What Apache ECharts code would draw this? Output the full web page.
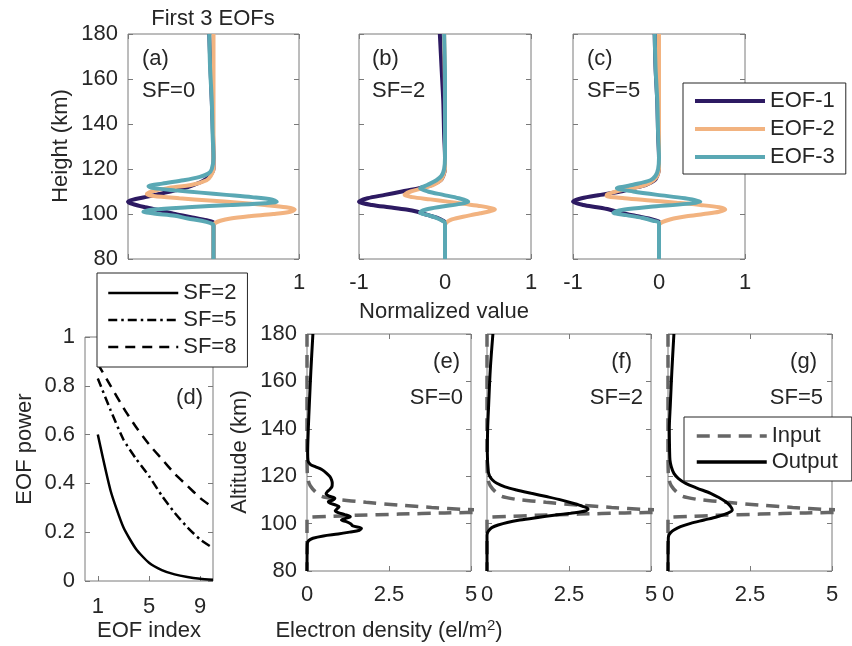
<!DOCTYPE html>
<html>
<head>
<meta charset="utf-8">
<script src="https://cdn.jsdelivr.net/npm/echarts@6/dist/echarts.min.js"></script>
<style>
  html, body { margin: 0; padding: 0; background: #fff; }
  #chart { width: 852px; height: 646px; }
</style>
</head>
<body>
<div id="chart"></div>
<script>
// ---- data ----
// (a) SF=0
const hgtA1 = [180, 160, 140, 125, 120, 116, 114, 112, 110.5, 109, 107.5, 106.3, 105.5, 104.5, 103, 101.5, 100, 98.5, 97.2, 96.3, 95, 80]
const eofA1 = [-0.05, -0.03, -0.01, 0, 0, -0.07, -0.16, -0.3, -0.45, -0.62, -0.8, -0.95, -1.0, -0.95, -0.8, -0.62, -0.45, -0.25, -0.08, 0, 0, 0]
const hgtA2 = [180, 160, 140, 125, 120, 117, 115, 113, 111.4, 110, 108.8, 108, 107, 106, 105, 104, 103, 102, 101, 100, 99, 98, 97, 96, 95, 80]
const eofA2 = [0, 0, 0, 0, 0, -0.03, -0.08, -0.25, -0.55, -0.72, -0.78, -0.7, -0.4, -0.05, 0.3, 0.6, 0.85, 0.95, 0.9, 0.7, 0.42, 0.2, 0.08, 0.02, 0, 0]
const hgtA3 = [180, 165, 150, 135, 125, 120, 118, 116.5, 115, 113.5, 112.3, 111.5, 110.5, 109.5, 108.5, 107.5, 106.5, 105.5, 104.8, 104, 103, 102, 101, 100.2, 99.2, 98, 97, 96, 95, 80]
const eofA3 = [-0.05, -0.04, -0.02, -0.01, 0, -0.02, -0.06, -0.16, -0.35, -0.6, -0.76, -0.7, -0.45, -0.15, 0.15, 0.45, 0.68, 0.74, 0.6, 0.2, -0.3, -0.7, -0.82, -0.7, -0.45, -0.3, -0.14, -0.04, 0, 0]
// (b) SF=2
const hgtB1 = [180, 165, 150, 135, 125, 120, 117, 115, 113, 111.5, 110, 108.5, 107, 105.5, 104, 103, 102, 101, 100, 99, 98, 97, 96.5, 80]
const eofB1 = [-0.06, -0.04, -0.02, -0.01, 0, 0, -0.02, -0.05, -0.15, -0.3, -0.5, -0.7, -0.9, -1.0, -0.85, -0.65, -0.45, -0.32, -0.24, -0.15, -0.07, -0.02, 0, 0]
const hgtB2 = [180, 150, 125, 120, 117, 115, 113, 111.5, 110, 108.4, 107.5, 106.5, 105.5, 104.5, 103.5, 102.5, 102, 101.2, 100.3, 99.5, 98.8, 98, 97.3, 96.3, 95, 80]
const eofB2 = [-0.01, 0, 0, 0, -0.02, -0.05, -0.13, -0.25, -0.4, -0.47, -0.38, -0.17, 0.03, 0.22, 0.42, 0.55, 0.58, 0.52, 0.41, 0.3, 0.21, 0.12, 0.06, 0.02, 0, 0]
const hgtB3 = [180, 160, 140, 125, 120, 117, 115, 113, 111.4, 110, 108.5, 107, 105.5, 104.5, 103.2, 102, 100.6, 99.5, 98.3, 97, 96, 80]
const eofB3 = [-0.01, 0, 0, 0, -0.01, -0.04, -0.1, -0.2, -0.29, -0.2, -0.02, 0.16, 0.27, 0.18, -0.05, -0.22, -0.29, -0.2, -0.1, -0.03, 0, 0]
// (c) SF=5
const hgtC1 = [180, 165, 150, 135, 125, 120, 117, 115, 113, 111.5, 110, 108.5, 107, 105.5, 104, 103, 102, 101, 100, 99, 98, 97, 96.5, 80]
const eofC1 = [-0.05, -0.04, -0.02, -0.01, 0, 0, -0.02, -0.05, -0.15, -0.3, -0.45, -0.68, -0.9, -1.0, -0.88, -0.72, -0.58, -0.49, -0.38, -0.25, -0.12, -0.03, 0, 0]
const hgtC2 = [180, 150, 125, 120, 117, 115, 113, 111.5, 110, 108.7, 108, 107, 106, 105, 104, 103, 102, 101, 100, 99, 98, 97, 96, 95, 80]
const eofC2 = [0, 0, 0, 0, -0.02, -0.06, -0.15, -0.3, -0.5, -0.6, -0.61, -0.4, -0.1, 0.2, 0.48, 0.7, 0.77, 0.7, 0.52, 0.32, 0.17, 0.08, 0.02, 0, 0]
const hgtC3 = [180, 165, 150, 135, 125, 120, 117, 115, 113, 111.4, 110, 108.5, 107, 105.5, 104.5, 103.2, 102, 100.6, 99.5, 98.3, 97, 96, 80]
const eofC3 = [-0.05, -0.04, -0.02, -0.01, 0, -0.01, -0.04, -0.1, -0.3, -0.49, -0.3, -0.02, 0.3, 0.48, 0.32, -0.1, -0.4, -0.53, -0.38, -0.2, -0.07, 0, 0]

// (d) EOF power
const eofIndex = [1, 2, 3, 4, 5, 6, 7, 8, 9, 10]
const powerSF2 = [0.60, 0.37, 0.22, 0.13, 0.075, 0.045, 0.027, 0.016, 0.009, 0.005]
const powerSF5 = [0.83, 0.70, 0.58, 0.50, 0.43, 0.35, 0.28, 0.22, 0.17, 0.135]
const powerSF8 = [0.89, 0.80, 0.71, 0.63, 0.56, 0.50, 0.44, 0.39, 0.34, 0.30]

// (e)-(g) electron density, input profile is the same in all three
const hgtIn = [180, 130, 121, 118, 116, 113.5, 111.5, 110.2, 109, 107.8, 106.8, 106, 105.5, 105, 104.5, 104, 103.5, 103, 102.7, 102.4, 80]
const denIn = [0, 0, 0.01, 0.04, 0.1, 0.25, 0.45, 0.9, 1.8, 2.8, 3.8, 4.8, 5.6, 5.6, 4.2, 2.8, 1.5, 0.6, 0.1, 0, 0]
const hgtOutE = [180, 165, 150, 140, 130, 126.5, 125, 124, 122.8, 121.2, 119.8, 118.4, 117, 115.6, 114.5, 113.5, 112.5, 111.6, 110.7, 110, 109.2, 108.6, 107.8, 107.1, 106.3, 105.4, 104.6, 103.8, 102.9, 102.2, 101.5, 100.8, 99.8, 99, 98, 97.2, 96.4, 95.6, 94.8, 93.8, 92.8, 91.5, 80]
const denOutE = [0.18, 0.12, 0.07, 0.04, 0.02, 0.03, 0.1, 0.25, 0.45, 0.6, 0.7, 0.75, 0.77, 0.76, 0.7, 0.62, 0.58, 0.68, 0.85, 0.8, 0.65, 0.7, 0.88, 0.98, 0.92, 0.86, 0.95, 1.15, 1.32, 1.18, 1.05, 1.2, 1.34, 1.4, 1.66, 1.6, 1.3, 0.95, 0.5, 0.18, 0.05, 0.01, 0]
const hgtOutF = [180, 165, 150, 140, 130, 122, 120, 118.5, 117, 115.5, 114.2, 112.8, 111.4, 110, 108.6, 107.3, 106.2, 105.3, 104.4, 103.6, 102.5, 101.5, 100.5, 99.4, 98.4, 97.3, 96.3, 95, 80]
const denOutF = [0.18, 0.1, 0.05, 0.02, 0.01, 0.04, 0.08, 0.16, 0.3, 0.55, 0.9, 1.35, 1.81, 2.25, 2.62, 2.92, 3.08, 3.0, 2.55, 2.1, 1.5, 1.0, 0.62, 0.34, 0.16, 0.07, 0.02, 0, 0]
const hgtOutG = [180, 165, 150, 140, 130, 126.8, 124, 121.2, 119, 117, 115, 112.8, 111, 109.2, 107.4, 105.7, 104.3, 102.9, 101.5, 100.1, 98.7, 97.3, 96.2, 95.2, 94, 80]
const denOutG = [0.18, 0.12, 0.07, 0.04, 0.05, 0.06, 0.1, 0.18, 0.32, 0.54, 0.88, 1.3, 1.55, 1.76, 1.9, 1.96, 1.8, 1.5, 1.1, 0.69, 0.38, 0.18, 0.08, 0.03, 0.01, 0]

// ---- layout / style ----
const FONT = '"Liberation Sans", Arial, Helvetica, sans-serif'
const FS = 22
const TXT = '#262626'
const BOX = '#7a7a7a'
const C1 = '#2d1a62', C2 = '#f2b380', C3 = '#5aa8b4'

const grids = [
  { left: 128, top: 34, width: 171, height: 225 },  // a
  { left: 359, top: 34, width: 172, height: 225 },  // b
  { left: 573, top: 34, width: 172, height: 225 },  // c
  { left: 85, top: 337, width: 128, height: 244 },  // d
  { left: 307, top: 334, width: 164, height: 237 }, // e
  { left: 487, top: 334, width: 164, height: 237 }, // f
  { left: 668, top: 334, width: 164, height: 237 }  // g
].map(g => Object.assign({ show: true, borderColor: BOX, borderWidth: 1, backgroundColor: 'transparent' }, g))

const tick = { show: true, inside: true, length: 5, lineStyle: { color: BOX, width: 1 } }

function xAxes (gi, min, max, interval, showLabel, margin, custom) {
  let base = {
    type: 'value', gridIndex: gi, min: min, max: max, interval: interval,
    axisLine: { show: false, onZero: false }, splitLine: { show: false },
    axisTick: Object.assign({}, tick, custom ? { customValues: custom } : {})
  }
  let bottom = Object.assign({}, base, {
    position: 'bottom',
    axisLabel: Object.assign({ show: showLabel, color: TXT, fontSize: FS, fontFamily: FONT, margin: margin }, custom ? { customValues: custom } : {})
  })
  let top = Object.assign({}, base, { position: 'top', axisLabel: { show: false } })
  return [bottom, top]
}

function yAxes (gi, min, max, interval, showLabel, fmt) {
  let base = {
    type: 'value', gridIndex: gi, min: min, max: max, interval: interval,
    axisLine: { show: false, onZero: false }, splitLine: { show: false }, axisTick: tick
  }
  let left = Object.assign({}, base, {
    position: 'left',
    axisLabel: { show: showLabel, color: TXT, fontSize: FS, fontFamily: FONT, margin: 10, formatter: fmt }
  })
  let right = Object.assign({}, base, { position: 'right', axisLabel: { show: false } })
  return [left, right]
}

let xAxis = [], yAxis = []
for (let gi = 0; gi < 3; gi++) {
  xAxis.push(...xAxes(gi, -1, 1, 1, true, 13))
  yAxis.push(...yAxes(gi, 80, 180, 20, gi === 0))
}
xAxis.push(...xAxes(3, 0, 10, 1, true, 15, [1, 5, 9]))
yAxis.push(...yAxes(3, 0, 1, 0.2, true, v => String(+v.toFixed(1))))
for (let gi = 4; gi < 7; gi++) {
  xAxis.push(...xAxes(gi, 0, 5, 2.5, true, 13))
  yAxis.push(...yAxes(gi, 80, 180, 20, gi === 4))
}

function line (name, gi, xs, ys, color, width, type, smooth) {
  return {
    name: name, type: 'line', xAxisIndex: gi * 2, yAxisIndex: gi * 2,
    data: xs.map((v, i) => [v, ys[i]]),
    symbol: 'none', showSymbol: false, smooth: smooth,
    lineStyle: { color: color, width: width, type: type || 'solid', cap: 'butt' },
    itemStyle: { color: color }, silent: true
  }
}

let series = [
  line('EOF-1', 0, eofA1, hgtA1, C1, 4, null, 0.3),
  line('EOF-2', 0, eofA2, hgtA2, C2, 4, null, 0.3),
  line('EOF-3', 0, eofA3, hgtA3, C3, 4, null, 0.3),
  line('EOF-1', 1, eofB1, hgtB1, C1, 4, null, 0.3),
  line('EOF-2', 1, eofB2, hgtB2, C2, 4, null, 0.3),
  line('EOF-3', 1, eofB3, hgtB3, C3, 4, null, 0.3),
  line('EOF-1', 2, eofC1, hgtC1, C1, 4, null, 0.3),
  line('EOF-2', 2, eofC2, hgtC2, C2, 4, null, 0.3),
  line('EOF-3', 2, eofC3, hgtC3, C3, 4, null, 0.3),
  line('SF=2', 3, eofIndex, powerSF2, '#000', 2.5, 'solid', 0.2),
  line('SF=5', 3, eofIndex, powerSF5, '#000', 2.5, [9, 4, 2.5, 4], 0.2),
  line('SF=8', 3, eofIndex, powerSF8, '#000', 2.5, [10, 7], 0.2),
  line('Input', 4, denIn, hgtIn, '#666', 3.5, [13, 8], 0.2),
  line('Output', 4, denOutE, hgtOutE, '#000', 3, null, 0.3),
  line('Input', 5, denIn, hgtIn, '#666', 3.5, [13, 8], 0.2),
  line('Output', 5, denOutF, hgtOutF, '#000', 3, null, 0.3),
  line('Input', 6, denIn, hgtIn, '#666', 3.5, [13, 8], 0.2),
  line('Output', 6, denOutG, hgtOutG, '#000', 3, null, 0.3)
]

const legendBase = {
  orient: 'vertical', itemWidth: 70, itemHeight: 14,
  backgroundColor: '#fff', borderColor: '#262626', borderWidth: 1, borderRadius: 0,
  itemStyle: { opacity: 0 },
  textStyle: { color: TXT, fontSize: FS, fontFamily: FONT }, selectedMode: false, z: 10
}
let legend = [
  Object.assign({}, legendBase, {
    left: 683, top: 83, padding: [7, 11, 6, 10], itemGap: 6,
    data: ['EOF-1', 'EOF-2', 'EOF-3'], lineStyle: { width: 4 }
  }),
  Object.assign({}, legendBase, {
    left: 97, top: 273, padding: [9, 11, 9, 10], itemGap: 5,
    data: ['SF=2', 'SF=5', 'SF=8'], lineStyle: { width: 2.5 }
  }),
  Object.assign({}, legendBase, {
    left: 684, top: 417, padding: [8, 14, 8, 11], itemGap: 4,
    data: ['Input', 'Output'], lineStyle: { width: 3.5 }
  })
]

function txt (s, x, y, align, rot) {
  return {
    type: 'text', x: x, y: y, rotation: rot || 0, z: 20, silent: true,
    style: { text: s, fill: TXT, font: FS + 'px ' + FONT, textAlign: align || 'center', textVerticalAlign: 'middle' }
  }
}

let graphic = [
  txt('First 3 EOFs', 213, 19),
  txt('Height (km)', 61, 146, 'center', Math.PI / 2),
  txt('Normalized value', 444, 312),
  txt('EOF power', 25, 449, 'center', Math.PI / 2),
  txt('EOF index', 149, 631),
  txt('Altitude (km)', 240, 452, 'center', Math.PI / 2),
  {
    type: 'text', x: 389, y: 631, z: 20, silent: true,
    style: {
      text: 'Electron density (el/m{s|2})', fill: TXT, font: FS + 'px ' + FONT,
      textAlign: 'center', textVerticalAlign: 'middle',
      rich: { s: { fontSize: 15, fontFamily: FONT, fill: TXT, verticalAlign: 'top', padding: [0, 0, 10, 0] } }
    }
  },
  txt('(a)', 142, 59, 'left'), txt('SF=0', 142, 91, 'left'),
  txt('(b)', 372, 59, 'left'), txt('SF=2', 372, 91, 'left'),
  txt('(c)', 587, 59, 'left'), txt('SF=5', 587, 91, 'left'),
  txt('(d)', 203, 398, 'right'),
  txt('(e)', 460, 362, 'right'), txt('SF=0', 463, 398, 'right'),
  txt('(f)', 632, 362, 'right'), txt('SF=2', 643, 398, 'right'),
  txt('(g)', 817, 362, 'right'), txt('SF=5', 823, 398, 'right')
]

let chart = echarts.init(document.getElementById('chart'), null, { renderer: 'canvas' })
let option = {
  animation: false,
  backgroundColor: '#fff',
  grid: grids,
  xAxis: xAxis,
  yAxis: yAxis,
  legend: legend,
  series: series,
  graphic: graphic
}
option && chart.setOption(option)
</script>
</body>
</html>
